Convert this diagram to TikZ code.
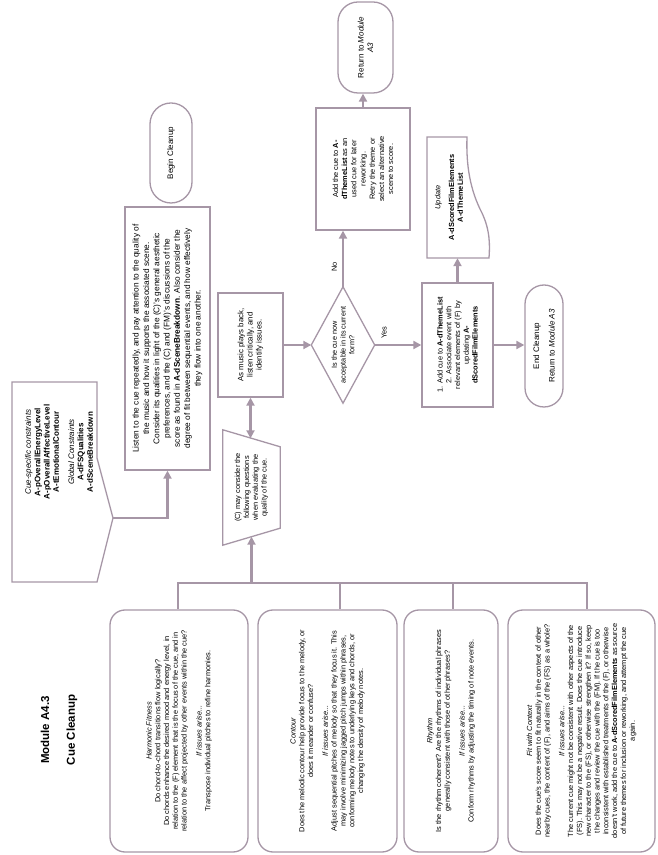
\documentclass[tikz,border=0pt]{standalone}
\usepackage{fontspec}
\setmainfont{Liberation Sans}
\usetikzlibrary{arrows.meta,calc}
\definecolor{edge}{RGB}{166,150,166}
\tikzset{
  outline/.style={draw=edge, line width=1.3pt},
  txt/.style={align=center, inner sep=1pt, font=\fontsize{7.4}{8.8}\selectfont},
  procbox/.style={outline, txt},
  roundbox/.style={outline, txt, rounded corners=15pt},
  terminal/.style={outline, txt, font=\fontsize{8}{9.4}\selectfont},
  link/.style={draw=edge, line width=2.3pt},
  flow/.style={link, -{Triangle[length=8pt,width=8pt]}},
  twoway/.style={link, {Triangle[length=8pt,width=8pt]}-{Triangle[length=8pt,width=8pt]}},
  heading/.style={font=\bfseries\fontsize{11.5}{13}\selectfont},
}
\begin{document}
\begin{tikzpicture}[x=1pt,y=1pt,rotate=90,transform shape]
\useasboundingbox (0,0) rectangle (855,-657);

% heading
\node[heading] (title) at (125,-45) {Module A4.3};
\node[heading] (subtitle) at (125,-72) {Cue Cleanup};

% constraints (off-page pentagon)
\draw[outline] (273,-12) -- (473,-12) -- (473,-97) -- (397,-97) -- (337,-113) -- (273,-97) -- cycle;
\coordinate (ctip) at (337,-113);
\node[txt, font=\fontsize{8}{9.3}\selectfont] (constraints) at (403,-59)
  {\textit{Cue-specific constraints}\\ \textbf{A-pOverallEnergyLevel}\\ \textbf{A-pOverallAffectiveLevel}\\ \textbf{A-tEmotionalContour}\\[6pt]
   \textit{Global Constraints}\\ \textbf{A-dFSQualities}\\ \textbf{A-dSceneBreakdown}};

% start
\node[terminal, rounded corners=21pt, minimum width=100, minimum height=42] (begin) at (702,-171) {Begin Cleanup};

% listening pass
\node[procbox, minimum width=263, minimum height=85, font=\fontsize{8.3}{10.3}\selectfont] (listen) at (516.5,-167.5)
  {Listen to the cue repeatedly, and pay attention to the quality of\\ the music and how it supports the associated scene.\\
   Consider its qualities in light of the (C)'s general aesthetic\\ preferences, and the (C) and (FM)'s discussions of the\\
   score as found in \textbf{A-dSceneBreakdown}. Also consider the\\ degree of fit between sequential events, and how effectively\\
   they flow into one another.};
\draw[flow] (ctip) |- (listen.west);

% critical playback
\node[procbox, minimum width=104, minimum height=65, font=\fontsize{7.8}{9.2}\selectfont] (music) at (510,-250.5)
  {As music plays back,\\ listen critically, and\\ identify issues.};

% manual operation (trapezoid)
\node[txt, minimum width=115, minimum height=57] (consider) at (367.5,-251.5)
  {(C) may consider the\\ following questions\\ when evaluating the\\ quality of the cue.};
\draw[outline] (consider.north west) -- (consider.north east) -- ($(consider.south east)+(-17,0)$) -- ($(consider.south west)+(17,0)$) -- cycle;
\coordinate (cleft) at ($(consider.west)+(8.5,0)$);
\coordinate (cright) at ($(consider.east)+(-8.5,0)$);
\draw[twoway] (music.west) -- (music.west -| cright);

% decision
\node[txt, font=\fontsize{7.3}{8.7}\selectfont, minimum width=116, minimum height=63] (decide) at (510,-343)
  {Is the cue now\\ acceptable in its current\\ form?};
\draw[outline] (decide.west) -- (decide.north) -- (decide.east) -- (decide.south) -- cycle;
\draw[flow] (music.south) -- (decide.north);

% rejected branch
\node[procbox, minimum width=122, minimum height=94, font=\fontsize{7.4}{9.2}\selectfont] (retry) at (686,-363)
  {Add the cue to \textbf{A-}\\ \textbf{dThemeList} as an\\ used cue for later\\ reworking.\\ Retry the theme or\\ select an alternative\\ scene to score.};
\node[terminal, rounded corners=20pt, minimum width=91, minimum height=55] (back) at (807.5,-365.5)
  {Return to \textit{Module}\\ \textit{A3}};
\draw[flow] (decide.east) -- (decide.east -| retry.west) node[pos=0.35, above=4pt, txt] {No};
\draw[flow] (retry.east) -- (retry.east -| back.west);

% accepted branch
\node[procbox, minimum width=124, minimum height=71] (addcue) at (510,-457.5)
  {1. Add cue to \textbf{A-dThemeList}\\ 2. Associate event with\\ relevant elements of (F) by\\ updating \textbf{A-}\\ \textbf{dScoredFilmElements}};
\draw[flow] (decide.south) -- (addcue.north) node[pos=0.2, right=4pt, txt] {Yes};

% document update
\node[txt, minimum width=121, minimum height=40] (update) at (657.5,-449)
  {\textit{Update}\\[5pt] \textbf{A-dScoredFilmElements}\\ \textbf{A-dThemeList}};
\draw[outline] (597,-427) -- (718,-427) -- (718,-467)
  .. controls (690,-466) and (665,-470) .. (642,-482)
  .. controls (625,-490) and (610,-490) .. (597,-489) -- cycle;
\draw[flow] (addcue.east) -- (addcue.east -| update.west);

% end
\node[terminal, rounded corners=19pt, minimum width=122, minimum height=38] (finish) at (509,-544)
  {End Cleanup\\[6pt] Return to \textit{Module A3}};
\draw[flow] (addcue.south) -- (addcue.south |- finish.north);

% evaluation criteria
\node[roundbox, minimum width=242, minimum height=138] (harm) at (124,-179)
  {\textit{Harmonic Fitness}\\ Do chord-to-chord transitions flow logically?\\ Do chords enhance the desired mood and energy level, in\\
   relation to the (F) element that is the focus of the cue, and in\\ relation to the affect projected by other events within the cue?\\[6pt]
   \textit{If issues arise...}\\ Transpose individual pitches to refine harmonies.};
\node[roundbox, minimum width=242, minimum height=139] (cont) at (124,-327.5)
  {\textit{Contour}\\ Does the melodic contour help provide focus to the melody, or\\ does it meander or confuse?\\[6pt]
   \textit{If issues arise...}\\ Adjust sequential pitches of melody so that they focus it. This\\ may involve minimizing jagged pitch jumps within phrases,\\
   conforming melody notes to underlying keys and chords, or\\ changing the density of melody notes.};
\node[roundbox, minimum width=242, minimum height=94] (rhy) at (124,-451)
  {\textit{Rhythm}\\ Is the rhythm coherent? Are the rhythms of individual phrases\\ generally consistent with those of other phrases?\\[6pt]
   \textit{If issues arise...}\\ Conform rhythms by adjusting the timing of note events.};
\node[roundbox, minimum width=242, minimum height=147] (fit) at (124,-581.5)
  {\textit{Fit with Context}\\ Does the cue's score seem to fit naturally in the context of other\\ nearby cues, the content of (F), and aims of the (FS) as a whole?\\[6pt]
   \textit{If issues arise...}\\ The current cue might not be consistent with other aspects of the\\ (FS). This may not be a negative result. Does the cue introduce\\
   new character to the (FS), or otherwise strengthen it? If so, keep\\ the changes and review the cue with the (FM). If the cue is too\\
   inconsistent with established treatments of the (F), or otherwise\\ doesn't work, add the cue to \textbf{A-dScoredFilmElements} as source\\
   of future themes for inclusion or reworking, and attempt the cue\\ again.};

% bus joining the criteria to the trapezoid
\coordinate (s1) at (272,-178);
\coordinate (s2) at (272,-340);
\coordinate (s3) at (272,-453);
\coordinate (s4) at (272,-587);
\coordinate (sj) at (272,-251.5);
\draw[link, line cap=rect] (s1) -- (s4);
\draw[link] (s1) -- (s1 -| harm.east);
\draw[link] (s2) -- (s2 -| cont.east);
\draw[link] (s3) -- (s3 -| rhy.east);
\draw[link] (s4) -- (s4 -| fit.east);
\draw[flow] (sj) -- (sj -| cleft);
\end{tikzpicture}
\end{document}
